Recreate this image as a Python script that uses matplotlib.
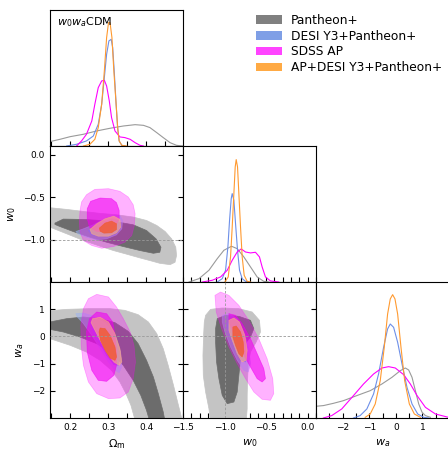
import numpy as np
import matplotlib.pyplot as plt
from matplotlib.ticker import MultipleLocator
from matplotlib.patches import Patch

# parameter ranges and ticks
om_lim = [0.147, 0.497]
w0_lim = [-1.5, 0.1]
wa_lim = [-3.0, 2.0]
om_ticks = [0.2, 0.3, 0.4]
w0_xticks = [-1.5, -1.0, -0.5, 0.0]
w0_yticks = [-1.0, -0.5, 0.0]
wa_ticks = [-2, -1, 0, 1]

labels = ['Pantheon+', 'DESI Y3+Pantheon+', 'SDSS AP', 'AP+DESI Y3+Pantheon+']

# ---- 2D contours (68% inner / 95% outer) ----
# Omega_m - w0
pan_om_w0_95 = [(0.147, -0.626), (0.191, -0.646), (0.235, -0.670), (0.279, -0.693), (0.322, -0.709),
                (0.366, -0.736), (0.401, -0.776), (0.428, -0.835), (0.450, -0.906), (0.467, -0.992),
                (0.478, -1.091), (0.480, -1.189), (0.476, -1.268), (0.463, -1.296), (0.436, -1.280),
                (0.410, -1.248), (0.384, -1.217), (0.349, -1.173), (0.314, -1.130), (0.279, -1.079),
                (0.235, -1.012), (0.191, -0.933), (0.147, -0.855)]
pan_om_w0_68 = [(0.160, -0.807), (0.182, -0.760), (0.235, -0.764), (0.279, -0.776), (0.322, -0.792),
                (0.366, -0.827), (0.401, -0.894), (0.426, -0.992), (0.439, -1.091), (0.436, -1.150),
                (0.419, -1.162), (0.384, -1.130), (0.340, -1.083), (0.296, -1.032), (0.252, -0.973),
                (0.208, -0.906), (0.173, -0.847), (0.160, -0.823)]
desi_om_w0_95 = [(0.215, -0.906), (0.235, -0.874), (0.261, -0.827), (0.287, -0.764), (0.314, -0.717),
                 (0.331, -0.717), (0.338, -0.776), (0.336, -0.874), (0.322, -0.945), (0.296, -0.992),
                 (0.270, -1.004), (0.243, -0.973), (0.222, -0.937)]
desi_om_w0_68 = [(0.248, -0.894), (0.279, -0.815), (0.309, -0.756), (0.329, -0.776), (0.329, -0.874),
                 (0.314, -0.937), (0.283, -0.961), (0.257, -0.945)]
ap_om_w0_95 = [(0.265, -0.410), (0.301, -0.402), (0.331, -0.433), (0.353, -0.500), (0.366, -0.591),
               (0.371, -0.697), (0.369, -0.835), (0.362, -0.953), (0.344, -1.032), (0.314, -1.083),
               (0.283, -1.103), (0.257, -1.071), (0.235, -1.012), (0.226, -0.914), (0.224, -0.796),
               (0.226, -0.658), (0.230, -0.559), (0.243, -0.473)]
ap_om_w0_68 = [(0.279, -0.512), (0.309, -0.520), (0.322, -0.567), (0.329, -0.658), (0.329, -0.756),
               (0.318, -0.855), (0.296, -0.906), (0.270, -0.906), (0.251, -0.855), (0.245, -0.756),
               (0.245, -0.638), (0.254, -0.551)]
all_om_w0_95 = [(0.252, -0.882), (0.270, -0.815), (0.292, -0.756), (0.315, -0.725), (0.331, -0.764),
                (0.333, -0.855), (0.322, -0.921), (0.301, -0.961), (0.274, -0.961), (0.257, -0.933)]
all_om_w0_68 = [(0.277, -0.866), (0.292, -0.807), (0.309, -0.784), (0.322, -0.815), (0.322, -0.882),
                (0.309, -0.921), (0.289, -0.925), (0.279, -0.902)]

# Omega_m - wa
pan_om_wa_95 = [(0.138, 0.934), (0.191, 0.995), (0.252, 1.020), (0.305, 1.020), (0.344, 0.958),
                (0.379, 0.799), (0.406, 0.529), (0.428, 0.100), (0.445, -0.451), (0.458, -1.064),
                (0.472, -1.799), (0.485, -2.534), (0.494, -3.025), (0.515, -3.392), (0.371, -3.392),
                (0.371, -3.086), (0.360, -2.534), (0.347, -2.105), (0.331, -1.676), (0.309, -1.248),
                (0.279, -0.880), (0.243, -0.574), (0.200, -0.328), (0.147, -0.083), (0.138, -0.047)]
pan_om_wa_68 = [(0.138, 0.505), (0.191, 0.652), (0.235, 0.713), (0.279, 0.652), (0.318, 0.505),
                (0.353, 0.186), (0.379, -0.267), (0.401, -0.880), (0.419, -1.493), (0.432, -2.105),
                (0.445, -2.779), (0.450, -3.147), (0.410, -3.147), (0.401, -2.718), (0.386, -2.167),
                (0.366, -1.615), (0.340, -1.064), (0.309, -0.635), (0.270, -0.267), (0.226, -0.022),
                (0.182, 0.162), (0.138, 0.284)]
desi_om_wa_95 = [(0.215, 0.836), (0.235, 0.860), (0.261, 0.750), (0.292, 0.468), (0.318, 0.039),
                 (0.333, -0.574), (0.336, -1.125), (0.329, -1.333), (0.318, -1.248), (0.301, -0.941),
                 (0.279, -0.451), (0.257, 0.039), (0.235, 0.468), (0.219, 0.713)]
desi_om_wa_68 = [(0.257, 0.591), (0.279, 0.652), (0.305, 0.407), (0.322, -0.083), (0.329, -0.696),
                 (0.327, -1.064), (0.315, -1.039), (0.296, -0.696), (0.279, -0.267), (0.261, 0.162),
                 (0.254, 0.468)]
ap_om_wa_95 = [(0.270, 1.547), (0.301, 1.449), (0.322, 1.081), (0.340, 0.652), (0.358, 0.162),
               (0.368, -0.328), (0.372, -0.941), (0.366, -1.554), (0.353, -2.044), (0.331, -2.265),
               (0.301, -2.289), (0.270, -2.105), (0.248, -1.676), (0.235, -1.064), (0.229, -0.328),
               (0.228, 0.407), (0.235, 1.020), (0.248, 1.387)]
ap_om_wa_68 = [(0.270, 0.897), (0.296, 0.836), (0.312, 0.529), (0.318, 0.039), (0.322, -0.574),
               (0.322, -1.064), (0.315, -1.431), (0.296, -1.652), (0.274, -1.615), (0.257, -1.248),
               (0.245, -0.574), (0.243, 0.162), (0.251, 0.652)]
all_om_wa_95 = [(0.259, 0.652), (0.279, 0.701), (0.301, 0.529), (0.318, 0.100), (0.331, -0.451),
                (0.336, -0.941), (0.329, -1.064), (0.315, -0.941), (0.296, -0.574), (0.279, -0.145),
                (0.263, 0.284), (0.255, 0.505)]
all_om_wa_68 = [(0.279, 0.309), (0.292, 0.284), (0.305, 0.039), (0.318, -0.390), (0.322, -0.757),
                (0.318, -0.880), (0.305, -0.794), (0.292, -0.512), (0.280, -0.145), (0.276, 0.162)]

# w0 - wa
pan_w0_wa_95 = [(-1.228, 0.775), (-1.168, 0.995), (-1.028, 1.044), (-0.828, 1.020), (-0.668, 0.897),
                (-0.580, 0.591), (-0.568, 0.162), (-0.620, -0.206), (-0.688, -0.574), (-0.716, -1.064),
                (-0.724, -1.676), (-0.728, -2.167), (-0.728, -2.657), (-0.740, -3.147), (-1.168, -3.147),
                (-1.188, -2.657), (-1.228, -2.044), (-1.256, -1.431), (-1.260, -0.696), (-1.252, 0.039),
                (-1.244, 0.529)]
pan_w0_wa_68 = [(-1.088, 0.652), (-0.988, 0.775), (-0.828, 0.738), (-0.688, 0.591), (-0.648, 0.284),
                (-0.688, -0.022), (-0.768, -0.328), (-0.808, -0.819), (-0.828, -1.431), (-0.848, -2.044),
                (-0.888, -2.412), (-0.968, -2.473), (-1.028, -2.167), (-1.068, -1.554), (-1.096, -0.941),
                (-1.108, -0.206), (-1.108, 0.284)]
desi_w0_wa_95 = [(-1.028, 0.775), (-0.948, 0.836), (-0.848, 0.652), (-0.768, 0.162), (-0.708, -0.451),
                 (-0.688, -1.003), (-0.716, -1.309), (-0.768, -1.248), (-0.848, -0.880), (-0.928, -0.390),
                 (-0.996, 0.162), (-1.028, 0.529)]
desi_w0_wa_68 = [(-0.956, 0.591), (-0.888, 0.627), (-0.820, 0.407), (-0.756, -0.083), (-0.728, -0.635),
                 (-0.748, -0.941), (-0.796, -0.880), (-0.868, -0.512), (-0.928, -0.022), (-0.964, 0.346)]
ap_w0_wa_95 = [(-1.116, 1.510), (-1.048, 1.632), (-0.948, 1.510), (-0.828, 1.142), (-0.708, 0.591),
               (-0.588, -0.083), (-0.488, -0.819), (-0.420, -1.554), (-0.408, -2.105), (-0.448, -2.350),
               (-0.548, -2.314), (-0.648, -2.044), (-0.748, -1.554), (-0.848, -1.003), (-0.948, -0.390),
               (-1.036, 0.284), (-1.100, 0.897)]
ap_w0_wa_68 = [(-0.948, 0.836), (-0.868, 0.775), (-0.788, 0.468), (-0.688, -0.083), (-0.608, -0.635),
               (-0.528, -1.186), (-0.508, -1.554), (-0.548, -1.676), (-0.608, -1.554), (-0.688, -1.125),
               (-0.788, -0.574), (-0.876, -0.022), (-0.948, 0.529)]
all_w0_wa_95 = [(-0.948, 0.591), (-0.888, 0.676), (-0.820, 0.529), (-0.756, 0.039), (-0.728, -0.512),
                (-0.740, -0.880), (-0.788, -0.941), (-0.848, -0.635), (-0.908, -0.145), (-0.948, 0.223)]
all_w0_wa_68 = [(-0.900, 0.346), (-0.860, 0.382), (-0.808, 0.162), (-0.776, -0.206), (-0.768, -0.574),
                (-0.788, -0.757), (-0.828, -0.635), (-0.868, -0.328), (-0.900, -0.022)]

# ---- 1D marginals (relative density) ----
pan_om_x = [0.147, 0.173, 0.200, 0.235, 0.270, 0.305, 0.340, 0.371, 0.393, 0.410, 0.428, 0.445, 0.463, 0.480, 0.497]
pan_om_p = [0.033, 0.050, 0.070, 0.088, 0.113, 0.133, 0.150, 0.160, 0.155, 0.138, 0.100, 0.063, 0.025, 0.005, 0.0]
desi_om_x = [0.191, 0.217, 0.243, 0.261, 0.274, 0.283, 0.290, 0.296, 0.302, 0.308, 0.312, 0.316, 0.321, 0.325, 0.329, 0.336, 0.344]
desi_om_p = [0.0, 0.013, 0.038, 0.075, 0.163, 0.313, 0.513, 0.688, 0.788, 0.800, 0.738, 0.563, 0.313, 0.138, 0.038, 0.005, 0.0]
ap_om_x = [0.217, 0.230, 0.243, 0.257, 0.265, 0.274, 0.283, 0.290, 0.296, 0.303, 0.309, 0.318, 0.331, 0.344, 0.358, 0.371, 0.384, 0.393]
ap_om_p = [0.0, 0.038, 0.088, 0.188, 0.313, 0.438, 0.488, 0.493, 0.450, 0.338, 0.213, 0.113, 0.068, 0.063, 0.050, 0.025, 0.005, 0.0]
all_om_x = [0.235, 0.252, 0.265, 0.274, 0.283, 0.290, 0.296, 0.301, 0.305, 0.310, 0.315, 0.321, 0.325, 0.329, 0.336, 0.349]
all_om_p = [0.0, 0.013, 0.050, 0.138, 0.313, 0.563, 0.813, 0.925, 0.925, 0.813, 0.563, 0.313, 0.138, 0.038, 0.005, 0.0]

pan_w0_x = [-1.428, -1.308, -1.188, -1.088, -1.008, -0.916, -0.848, -0.768, -0.688, -0.608, -0.528, -0.468]
pan_w0_p = [0.0, 0.025, 0.088, 0.175, 0.238, 0.268, 0.250, 0.188, 0.113, 0.038, 0.005, 0.0]
desi_w0_x = [-1.088, -1.028, -0.988, -0.960, -0.940, -0.920, -0.908, -0.888, -0.868, -0.844, -0.820, -0.788, -0.748, -0.708]
desi_w0_p = [0.0, 0.025, 0.088, 0.263, 0.463, 0.625, 0.663, 0.613, 0.438, 0.238, 0.088, 0.025, 0.005, 0.0]
ap_w0_x = [-1.268, -1.148, -1.048, -0.968, -0.908, -0.848, -0.800, -0.748, -0.688, -0.628, -0.580, -0.548, -0.508, -0.448, -0.348]
ap_w0_p = [0.0, 0.013, 0.038, 0.088, 0.163, 0.225, 0.248, 0.225, 0.218, 0.223, 0.188, 0.113, 0.038, 0.008, 0.0]
all_w0_x = [-0.996, -0.956, -0.928, -0.908, -0.888, -0.872, -0.860, -0.844, -0.828, -0.808, -0.788, -0.764, -0.728, -0.688]
all_w0_p = [0.0, 0.038, 0.188, 0.413, 0.663, 0.863, 0.918, 0.863, 0.663, 0.413, 0.188, 0.050, 0.005, 0.0]

pan_wa_x = [-3.0, -2.723, -2.346, -1.969, -1.465, -0.962, -0.522, -0.145, 0.170, 0.358, 0.484, 0.610, 0.736, 0.862, 0.987, 1.113, 1.302]
pan_wa_p = [0.088, 0.093, 0.110, 0.130, 0.168, 0.205, 0.255, 0.305, 0.355, 0.375, 0.360, 0.305, 0.205, 0.105, 0.043, 0.018, 0.005]
desi_wa_x = [-1.591, -1.340, -1.088, -0.836, -0.648, -0.459, -0.308, -0.208, -0.082, 0.069, 0.233, 0.421, 0.610, 0.824, 1.050, 1.239]
desi_wa_p = [0.0, 0.018, 0.068, 0.180, 0.330, 0.530, 0.668, 0.705, 0.680, 0.568, 0.405, 0.230, 0.105, 0.030, 0.005, 0.0]
ap_wa_x = [-2.723, -2.409, -2.031, -1.591, -1.214, -0.836, -0.522, -0.270, -0.019, 0.296, 0.547, 0.799, 1.113, 1.491, 1.981]
ap_wa_p = [0.0, 0.018, 0.068, 0.168, 0.255, 0.330, 0.375, 0.385, 0.375, 0.325, 0.255, 0.168, 0.080, 0.030, 0.005]
all_wa_x = [-1.151, -0.962, -0.774, -0.585, -0.434, -0.308, -0.208, -0.119, -0.031, 0.069, 0.195, 0.333, 0.509, 0.698, 0.925]
all_wa_p = [0.005, 0.030, 0.105, 0.280, 0.530, 0.780, 0.893, 0.925, 0.893, 0.780, 0.530, 0.280, 0.105, 0.030, 0.005]

# ---- styles ----
fill_95 = [('#c4c4c4', 1.0), ('#9db3ee', 0.55), ('#ff00ff', 0.3), ('#ffb080', 0.6)]
fill_68 = [('#6c6c6c', 1.0), ('#6a8be6', 0.75), ('#f000f0', 0.6), ('#f05a30', 0.8)]
line_cols = ['#9a9a9a', '#6d8fe8', '#ff00ff', '#ff9a30']
legend_cols = ['#808080', '#7f9fe6', '#ff44ff', '#ffaa44']

c2d = {
    (1, 0): [(pan_om_w0_95, pan_om_w0_68), (desi_om_w0_95, desi_om_w0_68),
             (ap_om_w0_95, ap_om_w0_68), (all_om_w0_95, all_om_w0_68)],
    (2, 0): [(pan_om_wa_95, pan_om_wa_68), (desi_om_wa_95, desi_om_wa_68),
             (ap_om_wa_95, ap_om_wa_68), (all_om_wa_95, all_om_wa_68)],
    (2, 1): [(pan_w0_wa_95, pan_w0_wa_68), (desi_w0_wa_95, desi_w0_wa_68),
             (ap_w0_wa_95, ap_w0_wa_68), (all_w0_wa_95, all_w0_wa_68)],
}
c1d = {
    0: [(pan_om_x, pan_om_p), (desi_om_x, desi_om_p), (ap_om_x, ap_om_p), (all_om_x, all_om_p)],
    1: [(pan_w0_x, pan_w0_p), (desi_w0_x, desi_w0_p), (ap_w0_x, ap_w0_p), (all_w0_x, all_w0_p)],
    2: [(pan_wa_x, pan_wa_p), (desi_wa_x, desi_wa_p), (ap_wa_x, ap_wa_p), (all_wa_x, all_wa_p)],
}

lims = [om_lim, w0_lim, wa_lim]
xticks = [om_ticks, w0_xticks, wa_ticks]
yticks = [None, w0_yticks, wa_ticks]
minors = [0.05, 0.1, 0.5]
names = [r'$\Omega_{\rm m}$', r'$w_0$', r'$w_a$']

W, H = 448, 450
col_x = [50, 183, 316]
row_y = [10, 146, 282]
pw, ph = 133, 136

fig = plt.figure(figsize=(W / 100, H / 100), dpi=100)

for r in range(3):
    for c in range(r + 1):
        ax = fig.add_axes([col_x[c] / W, 1 - (row_y[r] + ph) / H, pw / W, ph / H])
        ax.set_xlim(lims[c])
        ax.set_xticks(xticks[c])
        ax.xaxis.set_minor_locator(MultipleLocator(minors[c]))
        ax.tick_params(which='both', direction='in', length=3.5, width=0.8, labelsize=6.5)
        if r == c:
            for k, (xs, ps) in enumerate(c1d[c]):
                ax.plot(xs, ps, color=line_cols[k], lw=0.8, solid_joinstyle='round')
            ax.set_ylim(0, 1.02)
            ax.set_yticks([])
        else:
            for k, (o95, o68) in enumerate(c2d[(r, c)]):
                p = np.array(o95)
                ax.fill(p[:, 0], p[:, 1], color=fill_95[k][0], alpha=fill_95[k][1],
                        lw=0.5, joinstyle='round', zorder=2 + k)
                p = np.array(o68)
                ax.fill(p[:, 0], p[:, 1], color=fill_68[k][0], alpha=fill_68[k][1],
                        lw=0.5, joinstyle='round', zorder=2 + k)
            ax.set_ylim(lims[r])
            ax.set_yticks(yticks[r])
            ax.tick_params(axis='y', right=True)
            # reference lines of LCDM
            if r == 1:
                ax.axhline(-1.0, color='#999999', ls=(0, (3, 2)), lw=0.6, zorder=10)
            if r == 2:
                ax.axhline(0.0, color='#999999', ls=(0, (3, 2)), lw=0.6, zorder=10)
            if c == 1:
                ax.axvline(-1.0, color='#999999', ls=(0, (3, 2)), lw=0.6, zorder=10)
            if c == 0:
                ax.set_ylabel(names[r], fontsize=8)
            else:
                ax.tick_params(labelleft=False)
        if r == 2:
            ax.set_xlabel(names[c], fontsize=8)
        else:
            ax.tick_params(labelbottom=False)
        if r == 0 and c == 0:
            ax.text(0.05, 0.96, r'$w_0w_a$CDM', transform=ax.transAxes,
                    ha='left', va='top', fontsize=8)

handles = [Patch(facecolor=col, edgecolor='none') for col in legend_cols]
fig.legend(handles, labels, loc='upper left', bbox_to_anchor=(256 / W, 1 - 14 / H),
           frameon=False, fontsize=8.8, borderpad=0, borderaxespad=0,
           handlelength=2.1, handletextpad=0.75, labelspacing=0.22)

fig.savefig('out.png', dpi=100)
